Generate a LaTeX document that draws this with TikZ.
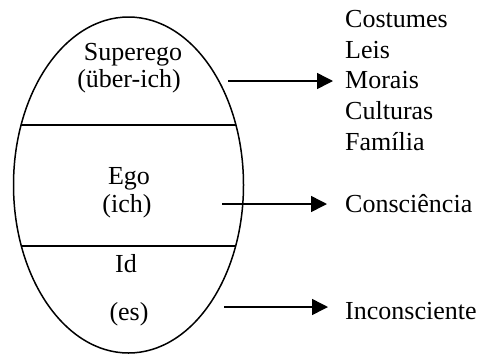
\documentclass[tikz,border=0pt]{standalone}
\usepackage{fontspec}
\setmainfont{Liberation Serif}
\usetikzlibrary{arrows.meta}
\begin{document}
\begin{tikzpicture}[x=1pt,y=-1pt,
  lbl/.style={font=\fontsize{26}{31}\selectfont, inner sep=0pt, anchor=base},
  rlbl/.style={lbl, anchor=base west},
  arr/.style={line width=1.5pt, -{Triangle[length=16pt,width=16pt]}},
  outline/.style={line width=1.5pt}]
\useasboundingbox (0,0) rectangle (481,354);

% the psyche as an ellipse, split into three layers
\draw[outline] (128.5,185) ellipse [x radius=115, y radius=168];
\begin{scope}
  \clip (128.5,185) ellipse [x radius=115, y radius=168];
  \draw[outline] (0,125) -- (260,125);
  \draw[outline] (0,246) -- (260,246);
\end{scope}

% layer labels
\node[lbl] (sup)  at (133,60)  {Superego};
\node[lbl] (uber) at (129,87)  {(über-ich)};
\node[lbl] (ego)  at (129,184) {Ego};
\node[lbl] (ich)  at (127,212) {(ich)};
\node[lbl] (id)   at (126,272) {Id};
\node[lbl] (es)   at (129,320) {(es)};

% associated concepts
\node[rlbl] (costumes) at (345,27)  {Costumes};
\node[rlbl] (leis)     at (345,58)  {Leis};
\node[rlbl] (morais)   at (345,88)  {Morais};
\node[rlbl] (culturas) at (345,119) {Culturas};
\node[rlbl] (familia)  at (345,150) {Família};
\node[rlbl] (consc)    at (345,212) {Consciência};
\node[rlbl] (incons)   at (345,319) {Inconsciente};

% arrows from each layer
\coordinate (a1) at (228,81);
\coordinate (a2) at (222,204);
\coordinate (a3) at (224,307);
\draw[arr, shorten >=12pt] (a1) -- (a1 -| morais.west);
\draw[arr, shorten >=18pt] (a2) -- (a2 -| consc.west);
\draw[arr, shorten >=17pt] (a3) -- (a3 -| incons.west);
\end{tikzpicture}
\end{document}
